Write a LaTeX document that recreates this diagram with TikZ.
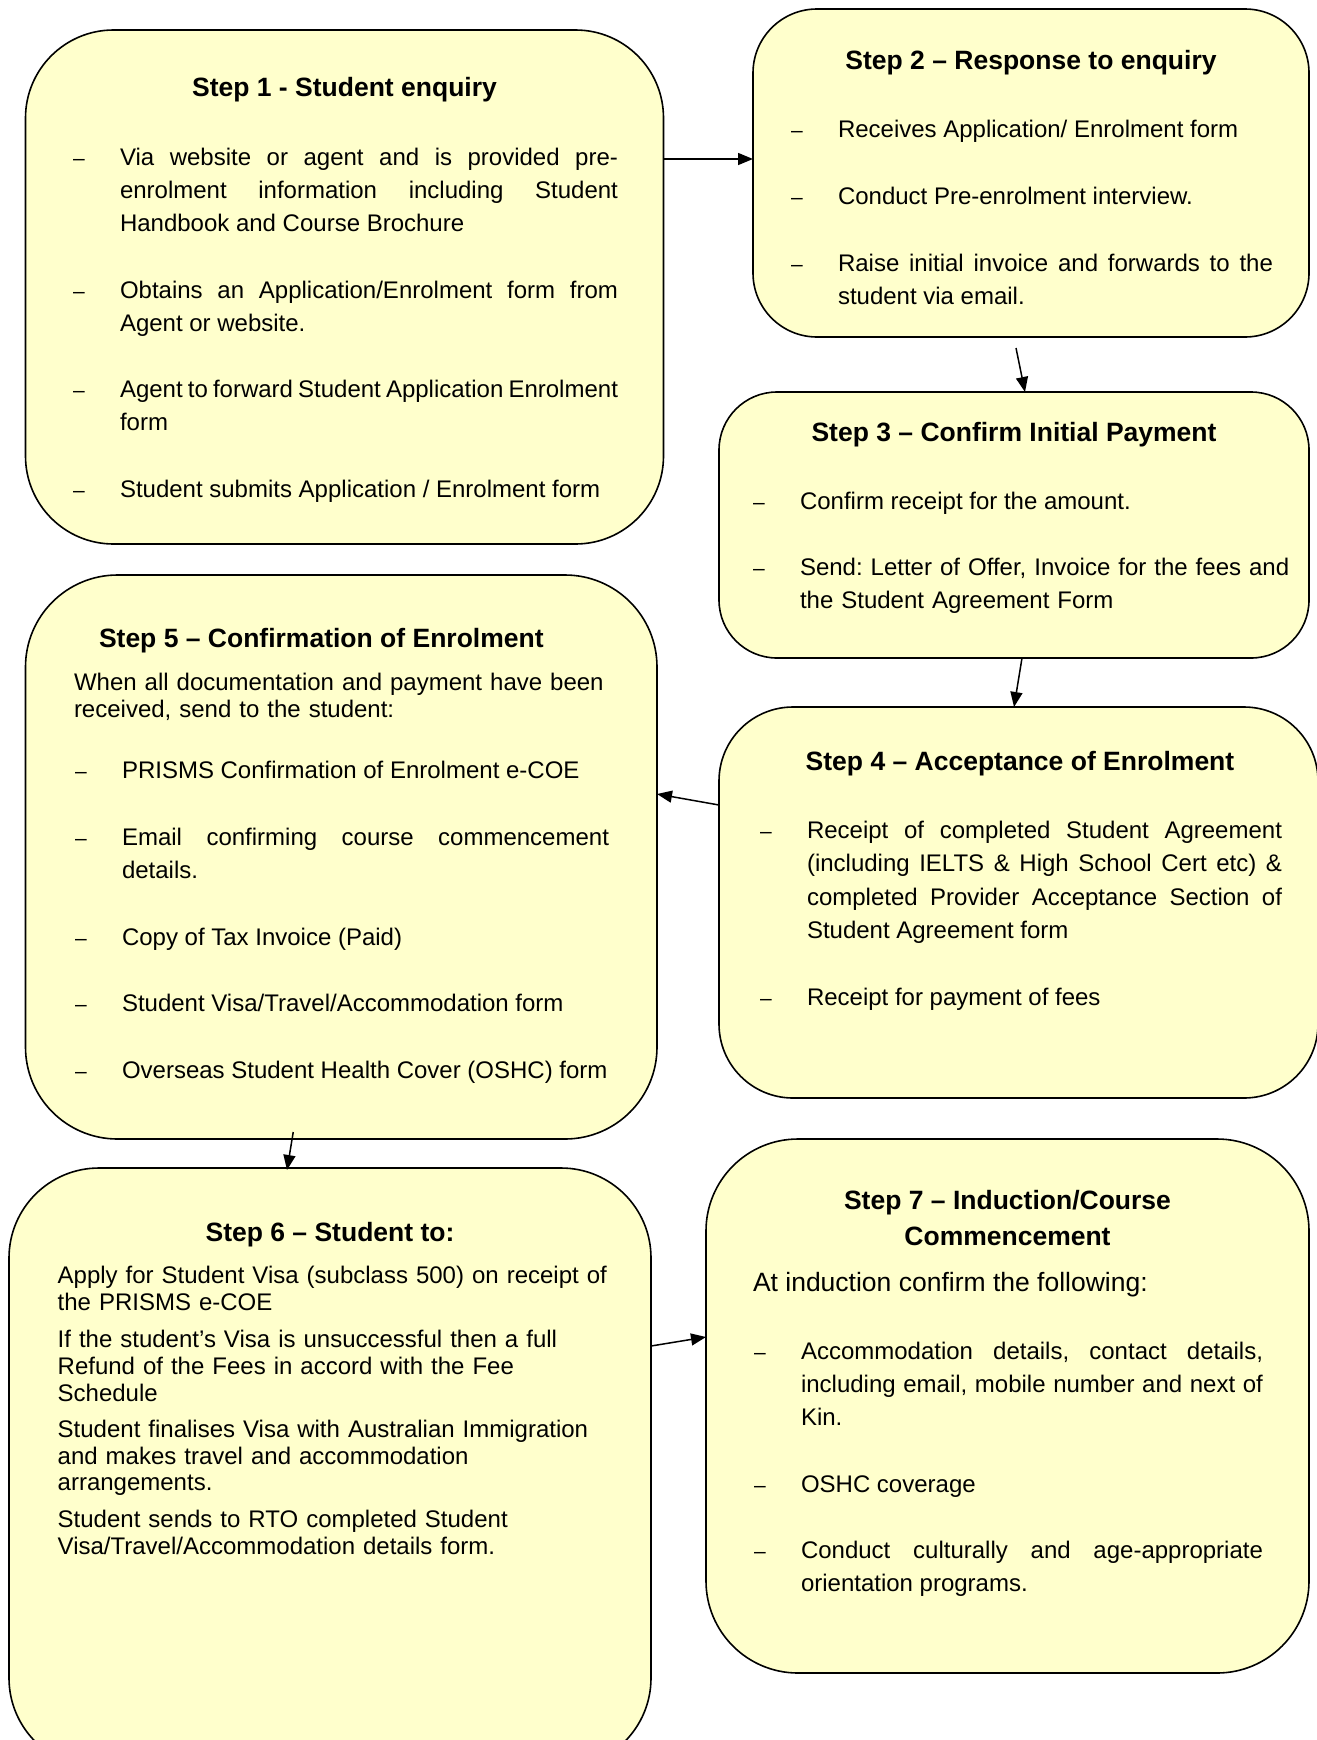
\documentclass[tikz,border=0pt]{standalone}
\usepackage{fontspec}
\setmainfont{Liberation Sans}
\usetikzlibrary{arrows.meta}
\definecolor{boxfill}{HTML}{FFFFCC}
\newcommand{\dsh}{\noindent\llap{\makebox[47pt][l]{\fontsize{21}{21}\selectfont –}}}
\newcommand{\bodyfont}{\fontsize{24}{33.3}\selectfont\frenchspacing\tolerance=10000\hyphenpenalty=10000}
\begin{document}
\frenchspacing
\begin{tikzpicture}[x=1pt,y=-1pt,
  stepbox/.style={draw=black, line width=1.6pt, fill=boxfill, inner sep=0pt, outer sep=0pt, anchor=north west, rounded corners=#1},
  title/.style={inner sep=0pt, outer sep=0pt, anchor=base, font=\bfseries\fontsize{26.5}{33}\selectfont},
  txt/.style={inner sep=0pt, outer sep=0pt, anchor=base west, font=\bodyfont},
  just/.style={txt, text width=#1, align=justify},
  six/.style={txt, text width=590pt, align=left, font=\fontsize{24}{26.6}\selectfont\frenchspacing},
  arr/.style={line width=1.5pt, -{Triangle[length=15pt,width=12pt]}},
]
\useasboundingbox (0,0) rectangle (1317,1740);
\clip (0,0) rectangle (1317,1740);
\fill[white] (0,0) rectangle (1317,1740);

% boxes
\node[stepbox=88pt, minimum width=638pt, minimum height=514pt] (b1) at (25.5,30) {};
\node[stepbox=64pt, minimum width=556pt, minimum height=328pt] (b2) at (753,9) {};
\node[stepbox=58pt, minimum width=590pt, minimum height=266pt] (b3) at (719,392) {};
\node[stepbox=74pt, minimum width=599pt, minimum height=391pt] (b4) at (719,707) {};
\node[stepbox=92pt, minimum width=631.5pt, minimum height=564pt] (b5) at (25.5,575) {};
\node[stepbox=90pt, minimum width=642pt, minimum height=600pt] (b6) at (9,1168) {};
\node[stepbox=92pt, minimum width=603pt, minimum height=534pt] (b7) at (706,1139) {};

% box 1
\node[title] (t1) at (344.5,96) {Step 1 - Student enquiry};
\node[just=498pt] (i11) at (120,165) {\dsh Via website or agent and is provided pre-\linebreak enrolment information including Student\linebreak Handbook and Course Brochure};
\node[just=498pt] (i12) at (120,298) {\dsh Obtains an Application/Enrolment form from\linebreak Agent or website.};
\node[just=498pt] (i13) at (120,397) {\dsh Agent to forward Student Application Enrolment\linebreak form};
\node[txt] (i14) at (120,497) {\dsh Student submits Application / Enrolment form};

% box 2
\node[title] (t2) at (1031,69.5) {Step 2 – Response to enquiry};
\node[txt] (i21) at (838,137) {\dsh Receives Application/ Enrolment form};
\node[txt] (i22) at (838,204) {\dsh Conduct Pre-enrolment interview.};
\node[just=435pt] (i23) at (838,271.5) {\dsh Raise initial invoice and forwards to the\linebreak student via email.};

% box 3
\node[title] (t3) at (1014,441) {Step 3 – Confirm Initial Payment};
\node[txt] (i31) at (800,509) {\dsh Confirm receipt for the amount.};
\node[txt, text width=500pt, align=left] (i32) at (800,575.5) {\dsh Send: Letter of Offer, Invoice for the fees and\\the Student Agreement Form};

% box 4
\node[title] (t4) at (1020,770.5) {Step 4 – Acceptance of Enrolment};
\node[just=475pt] (i41) at (807,838.5) {\dsh Receipt of completed Student Agreement\linebreak (including IELTS \& High School Cert etc) \&\linebreak completed Provider Acceptance Section of\linebreak Student Agreement form};
\node[txt] (i42) at (807,1005) {\dsh Receipt for payment of fees};

% box 5
\node[title, anchor=base west] (t5) at (99,647.5) {Step 5 – Confirmation of Enrolment};
\node[txt, text width=570pt, align=left, font=\fontsize{24}{27.7}\selectfont\frenchspacing] (p5) at (74,690) {When all documentation and payment have been\\received, send to the student:};
\node[txt] (i51) at (122,778) {\dsh PRISMS Confirmation of Enrolment e-COE};
\node[just=487pt] (i52) at (122,845) {\dsh Email confirming course commencement\linebreak details.};
\node[txt] (i53) at (122,945) {\dsh Copy of Tax Invoice (Paid)};
\node[txt] (i54) at (122,1011.5) {\dsh Student Visa/Travel/Accommodation form};
\node[txt] (i55) at (122,1078) {\dsh Overseas Student Health Cover (OSHC) form};

% box 6
\node[title] (t6) at (330,1241) {Step 6 – Student to:};
\node[six] (p61) at (57.7,1283.4) {Apply for Student Visa (subclass 500) on receipt of\\the PRISMS e-COE};
\node[six] (p62) at (57.7,1347.8) {If the student’s Visa is unsuccessful then a full\\Refund of the Fees in accord with the Fee\\Schedule};
\node[six] (p63) at (57.7,1437.6) {Student finalises Visa with Australian Immigration\\and makes travel and accommodation\\arrangements.};
\node[six] (p64) at (57.7,1527.6) {Student sends to RTO completed Student\\Visa/Travel/Accommodation details form.};

% box 7
\node[title] (t7) at (1007.5,1209) {Step 7 – Induction/Course};
\node[title] (t7b) at (1007.5,1245.5) {Commencement};
\node[txt, font=\fontsize{26.5}{33}\selectfont] (p7) at (753,1291) {At induction confirm the following:};
\node[just=462pt] (i71) at (801,1359) {\dsh Accommodation details, contact details,\linebreak including email, mobile number and next of\linebreak Kin.};
\node[txt] (i72) at (801,1492) {\dsh OSHC coverage};
\node[just=462pt] (i73) at (801,1558.5) {\dsh Conduct culturally and age-appropriate\linebreak orientation programs.};

% connectors
\draw[arr] ([yshift=-129pt]b1.north east) -- ([yshift=-150pt]b2.north west);
\draw[arr] ([xshift=-15pt,yshift=-11pt]b2.south) -- ([xshift=11pt]b3.north);
\draw[arr] ([xshift=8pt]b3.south) -- ([xshift=-4.5pt]b4.north);
\draw[arr] ([yshift=-98pt]b4.north west) -- ([yshift=-219pt]b5.north east);
\draw[arr] ([xshift=-48pt,yshift=7pt]b5.south) -- ([xshift=-43pt,yshift=-2pt]b6.north);
\draw[arr] ([yshift=-178pt]b6.north east) -- ([yshift=-198pt]b7.north west);
\end{tikzpicture}
\end{document}
